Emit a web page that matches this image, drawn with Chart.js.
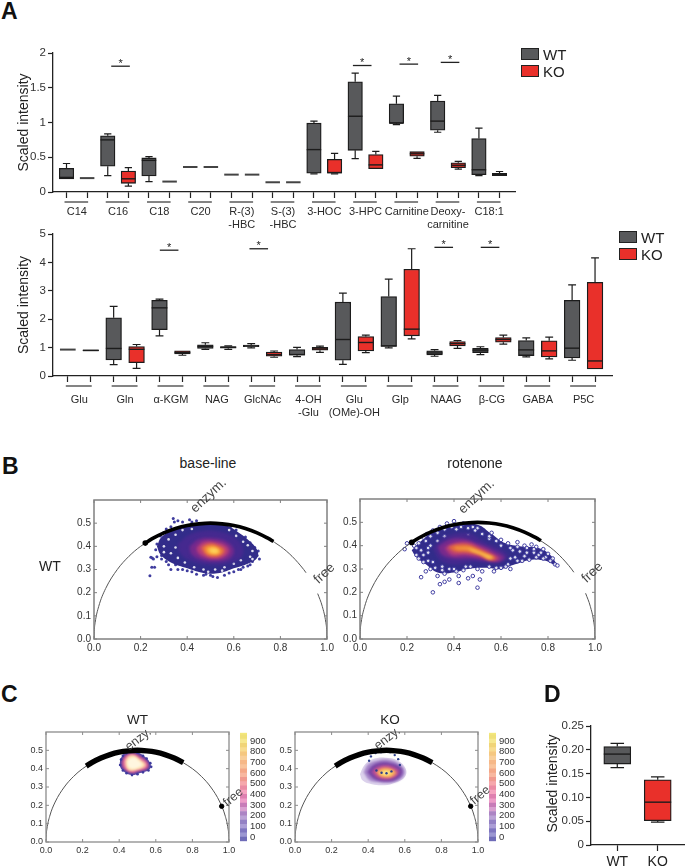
<!DOCTYPE html>
<html>
<head>
<meta charset="utf-8">
<title>Scaled intensity and phasor plots</title>
<script src="https://cdn.jsdelivr.net/npm/chart.js@4/dist/chart.umd.min.js"></script>
<style>
  html, body { margin: 0; padding: 0; background: #fff; }
  body { position: relative; width: 685px; height: 867px; overflow: hidden; font-family: "Liberation Sans", Arial, sans-serif; }
  canvas { position: absolute; }
  .txt { position: absolute; white-space: nowrap; color: #222; transform: translate(-50%, -50%); z-index: 5; }
  .swatch { position: absolute; border: 1.5px solid #222; box-sizing: border-box; z-index: 5; }
</style>
</head>
<body>
<script>
// ---------------- //
// Panel A, top     //
// ---------------- //
// every box row is [low whisker, q1, median, q3, high whisker]
const a1Labels = [['C14'], ['C16'], ['C18'], ['C20'], ['R-(3)', '-HBC'], ['S-(3)', '-HBC'], ['3-HOC'], ['3-HPC'], ['Carnitine'], ['Deoxy-', 'carnitine'], ['C18:1']];
const a1Wt = [
    [0.19, 0.19, 0.21, 0.34, 0.41],
    [0.235, 0.37, 0.75, 0.81, 0.835],
    [0.15, 0.23, 0.455, 0.49, 0.51],
    [0.36, 0.36, 0.36, 0.36, 0.36],
    [0.25, 0.25, 0.25, 0.25, 0.25],
    [0.14, 0.14, 0.14, 0.14, 0.14],
    [0.26, 0.27, 0.61, 0.99, 1.02],
    [0.48, 0.60, 1.09, 1.585, 1.71],
    [0.97, 0.99, 0.99, 1.27, 1.38],
    [0.86, 0.89, 1.02, 1.31, 1.39],
    [0.235, 0.25, 0.32, 0.77, 0.92]
];
const a1Ko = [
    [0.20, 0.20, 0.20, 0.20, 0.20],
    [0.085, 0.125, 0.19, 0.30, 0.35],
    [0.15, 0.15, 0.15, 0.15, 0.15],
    [0.36, 0.36, 0.36, 0.36, 0.36],
    [0.25, 0.25, 0.25, 0.25, 0.25],
    [0.14, 0.14, 0.14, 0.14, 0.14],
    [0.26, 0.27, 0.28, 0.47, 0.555],
    [0.335, 0.335, 0.39, 0.54, 0.585],
    [0.485, 0.515, 0.55, 0.58, 0.58],
    [0.33, 0.35, 0.385, 0.42, 0.44],
    [0.235, 0.235, 0.25, 0.27, 0.295]
];
const a1SigX = [2.62, 14.34, 16.6, 18.6];
const a1SigY = [1.81, 1.82, 1.84, 1.865];
const a1YTicks = [0, 0.5, 1, 1.5, 2];

// ---------------- //
// Panel A, bottom  //
// ---------------- //
const a2Labels = [['Glu'], ['Gln'], ['α-KGM'], ['NAG'], ['GlcNAc'], ['4-OH', '-Glu'], ['Glu', '(OMe)-OH'], ['Glp'], ['NAAG'], ['β-CG'], ['GABA'], ['P5C']];
const a2Wt = [
    [0.93, 0.93, 0.93, 0.93, 0.93],
    [0.40, 0.57, 0.97, 2.05, 2.45],
    [1.415, 1.63, 2.40, 2.665, 2.71],
    [0.94, 0.97, 1.04, 1.10, 1.17],
    [0.99, 1.03, 1.06, 1.09, 1.14],
    [0.68, 0.73, 0.755, 0.93, 1.01],
    [0.41, 0.555, 1.285, 2.60, 2.92],
    [0.99, 1.04, 1.06, 2.795, 3.41],
    [0.695, 0.74, 0.81, 0.885, 0.93],
    [0.755, 0.825, 0.91, 0.97, 1.03],
    [0.67, 0.72, 0.92, 1.25, 1.345],
    [0.555, 0.635, 0.98, 2.665, 3.21]
];
const a2Ko = [
    [0.88, 0.88, 0.90, 0.92, 0.92],
    [0.27, 0.47, 0.94, 1.04, 1.11],
    [0.73, 0.78, 0.825, 0.885, 0.885],
    [0.94, 0.98, 1.01, 1.04, 1.06],
    [0.66, 0.695, 0.755, 0.84, 0.88],
    [0.83, 0.91, 0.955, 1.01, 1.05],
    [0.825, 0.885, 1.18, 1.39, 1.44],
    [1.31, 1.415, 1.65, 3.76, 4.48],
    [0.97, 1.06, 1.14, 1.215, 1.25],
    [1.12, 1.19, 1.285, 1.355, 1.44],
    [0.60, 0.67, 0.885, 1.24, 1.37],
    [0.25, 0.25, 0.53, 3.30, 4.16]
];
const a2SigX = [4.42, 8.33, 16.4, 18.42];
const a2SigY = [4.43, 4.48, 4.53, 4.53];
const a2YTicks = [0, 1, 2, 3, 4, 5];

// ---------------- //
// Panel D          //
// ---------------- //
const dWt = [[0.1625, 0.170, 0.191, 0.207, 0.2136]];
const dKo = [[0.048, 0.051, 0.09, 0.137, 0.143]];
const dYTicks = [0, 0.05, 0.10, 0.15, 0.20, 0.25];

// ---------------- //
// Phasor plots     //
// ---------------- //
const arcFullX = [0, 0.001, 0.005, 0.02, 0.05, 0.1, 0.15, 0.2, 0.3, 0.4, 0.5, 0.6, 0.7, 0.8, 0.85, 0.9, 0.95, 0.98, 0.995, 0.999, 1];
const arcFullY = [0, 0.032, 0.071, 0.14, 0.218, 0.3, 0.357, 0.4, 0.458, 0.49, 0.5, 0.49, 0.458, 0.4, 0.357, 0.3, 0.218, 0.14, 0.071, 0.032, 0];
const arcGapX = [0, 0.001, 0.005, 0.02, 0.05, 0.1, 0.15, 0.2, 0.3, 0.4, 0.5, 0.6, 0.7, 0.8, 0.85, 0.9, 0.91, 0.93, 0.96, 0.98, 0.995, 0.999, 1];
const arcGapY = [0, 0.032, 0.071, 0.14, 0.218, 0.3, 0.357, 0.4, 0.458, 0.49, 0.5, 0.49, 0.458, 0.4, 0.357, 0.3, 0.286, null, 0.196, 0.14, 0.071, 0.032, 0];
const enzymBX = [0.22, 0.25, 0.3, 0.35, 0.4, 0.45, 0.5, 0.55, 0.6, 0.65, 0.7, 0.75, 0.77];
const enzymBY = [0.414, 0.433, 0.458, 0.477, 0.49, 0.497, 0.5, 0.497, 0.49, 0.477, 0.458, 0.433, 0.421];
const enzymCX = [0.22, 0.25, 0.3, 0.35, 0.4, 0.45, 0.5, 0.55, 0.6, 0.65, 0.7, 0.75];
const enzymCY = [0.414, 0.433, 0.458, 0.477, 0.49, 0.497, 0.5, 0.497, 0.49, 0.477, 0.458, 0.433];
const phasorXTicks = [0, 0.2, 0.4, 0.6, 0.8, 1];
const phasorYTicks = [0, 0.1, 0.2, 0.3, 0.4, 0.5];

const baseColours = ['#322c8a', '#45298f', '#76298c', '#b83d78', '#e9713f', '#f9a93a', '#fdd25a'];
const baseLevels = [
    [[.27,.40],[.29,.44],[.34,.47],[.40,.49],[.50,.50],[.57,.49],[.62,.46],[.66,.43],[.70,.385],[.70,.35],[.66,.325],[.60,.305],[.54,.285],[.47,.285],[.40,.305],[.33,.33],[.285,.365]],
    [[.36,.41],[.40,.445],[.46,.465],[.53,.465],[.60,.44],[.64,.395],[.63,.35],[.57,.325],[.49,.32],[.41,.34],[.37,.37]],
    [[.41,.40],[.45,.43],[.51,.435],[.57,.42],[.60,.385],[.585,.35],[.53,.335],[.47,.34],[.42,.365]],
    [[.44,.395],[.47,.42],[.52,.42],[.565,.405],[.58,.38],[.56,.355],[.52,.345],[.47,.355],[.445,.375]],
    [[.46,.395],[.49,.41],[.53,.405],[.56,.385],[.55,.365],[.52,.355],[.48,.365]],
    [[.48,.395],[.51,.40],[.54,.385],[.54,.37],[.51,.365],[.485,.375]],
    [[.495,.39],[.52,.392],[.535,.38],[.525,.37],[.50,.375]]
];
const baseSpeckles = [[.34,.52],[.345,.505],[.36,.51],[.38,.505],[.41,.515],[.42,.505],[.44,.51],[.33,.485],[.31,.475],[.30,.46],[.285,.445],[.27,.41],[.265,.385],[.25,.35],[.255,.345],[.27,.355],[.29,.36],[.26,.31],[.244,.353],[.248,.31],[.24,.273],[.33,.30],[.38,.30],[.42,.29],[.44,.28],[.47,.275],[.50,.275],[.53,.265],[.51,.27],[.56,.275],[.58,.285],[.60,.29],[.62,.30],[.64,.31],[.66,.315],[.70,.36],[.71,.345],[.68,.335],[.705,.38],[.69,.395],[.67,.415],[.65,.44],[.61,.47],[.585,.48],[.35,.32],[.31,.335],[.29,.345],[.32,.32],[.36,.30],[.40,.295],[.48,.28],[.67,.32],[.63,.30]];
const baseHoles = [[.30,.40],[.32,.43],[.35,.45],[.38,.47],[.33,.37],[.36,.35],[.39,.33],[.43,.31],[.47,.30],[.52,.30],[.56,.31],[.60,.325],[.63,.34],[.67,.355],[.68,.38],[.66,.405],[.64,.42],[.61,.445],[.58,.47],[.30,.375],[.35,.395],[.42,.475],[.68,.345],[.49,.29],[.55,.295]];

const rotColours = ['#322c8a', '#45298f', '#7a2a8c', '#b83d78', '#e3693f', '#f3973a', '#fdc94e'];
const rotLevels = [
    [[.22,.38],[.26,.42],[.32,.465],[.40,.49],[.50,.49],[.56,.45],[.62,.41],[.70,.395],[.76,.39],[.81,.36],[.835,.315],[.79,.335],[.73,.34],[.66,.32],[.60,.30],[.54,.305],[.46,.30],[.40,.285],[.33,.285],[.28,.32],[.24,.35]],
    [[.31,.39],[.35,.43],[.40,.45],[.47,.45],[.53,.415],[.60,.385],[.63,.355],[.61,.335],[.56,.325],[.48,.33],[.40,.32],[.34,.34]],
    [[.33,.395],[.38,.425],[.44,.43],[.50,.41],[.56,.385],[.615,.35],[.59,.33],[.54,.335],[.47,.345],[.40,.345],[.35,.36]],
    [[.36,.39],[.40,.41],[.46,.415],[.51,.395],[.56,.37],[.595,.345],[.565,.335],[.51,.35],[.45,.36],[.39,.36]],
    [[.375,.395],[.41,.405],[.46,.405],[.51,.385],[.55,.365],[.58,.345],[.55,.34],[.51,.36],[.46,.37],[.40,.375]],
    [[.40,.395],[.43,.395],[.46,.395],[.50,.38],[.54,.36],[.57,.345],[.545,.345],[.51,.365],[.46,.38],[.41,.385]],
    [[.46,.39],[.49,.38],[.53,.365],[.565,.35],[.55,.345],[.52,.36],[.48,.375]]
];
const rotSpeckles = [[.2,.41],[.19,.385],[.23,.40],[.27,.435],[.285,.45],[.31,.465],[.34,.48],[.37,.495],[.40,.505],[.44,.495],[.48,.48],[.50,.475],[.56,.455],[.60,.425],[.63,.41],[.67,.415],[.70,.40],[.73,.405],[.75,.395],[.78,.385],[.80,.365],[.82,.345],[.83,.32],[.84,.315],[.76,.36],[.71,.37],[.68,.375],[.66,.35],[.72,.34],[.69,.335],[.63,.32],[.64,.30],[.60,.305],[.57,.29],[.52,.29],[.46,.26],[.51,.255],[.48,.27],[.42,.27],[.38,.255],[.36,.245],[.34,.235],[.42,.24],[.50,.22],[.31,.2],[.26,.265],[.33,.27],[.36,.28],[.30,.30],[.27,.33],[.25,.345],[.24,.36],[.26,.38],[.29,.37],[.31,.33],[.28,.29],[.33,.42],[.30,.40],[.36,.44],[.41,.47],[.46,.445],[.35,.31],[.40,.30],[.45,.31],[.55,.43],[.74,.37],[.79,.35],[.65,.38],[.24,.39],[.25,.41],[.28,.42],[.30,.44],[.33,.455],[.36,.47],[.39,.48],[.43,.48],[.46,.475],[.49,.465],[.52,.45],[.55,.44],[.58,.42],[.60,.40],[.64,.39],[.67,.395],[.71,.39],[.74,.385],[.77,.37],[.81,.335],[.78,.345],[.75,.35],[.70,.355],[.67,.335],[.64,.345],[.62,.31],[.58,.305],[.55,.31],[.50,.30],[.47,.31],[.44,.295],[.41,.29],[.38,.30],[.35,.295],[.32,.305],[.29,.335],[.27,.36],[.29,.39]];

const wtColours = ['#4b44a6', '#b8488f', '#ef8fa0', '#fde3b0', '#fff6e0'];
const wtLevels = [
    [[.405,.45],[.43,.485],[.47,.495],[.52,.48],[.57,.43],[.565,.395],[.51,.375],[.47,.365],[.43,.38],[.405,.41]],
    [[.415,.45],[.44,.478],[.475,.485],[.515,.47],[.56,.43],[.555,.40],[.505,.385],[.47,.375],[.435,.39],[.415,.415]],
    [[.425,.445],[.445,.47],[.475,.478],[.51,.46],[.55,.43],[.545,.405],[.50,.39],[.47,.383],[.44,.395],[.425,.42]],
    [[.435,.44],[.45,.465],[.48,.47],[.51,.45],[.54,.425],[.535,.41],[.495,.395],[.47,.39],[.445,.40]],
    [[.445,.44],[.46,.455],[.485,.46],[.51,.44],[.525,.42],[.50,.405],[.47,.40],[.45,.41]]
];
const wtSpeckles = [[.41,.45],[.42,.47],[.44,.485],[.47,.495],[.50,.487],[.53,.47],[.55,.455],[.57,.43],[.575,.41],[.56,.39],[.53,.38],[.50,.37],[.47,.365],[.44,.375],[.42,.39],[.405,.42]];

const koColours = ['#dcd2ec', '#a585c8', '#7a45a5', '#b64d96', '#ee8d6a', '#fac45e', '#fde58a'];
const koLevels = [
    [[.355,.37],[.38,.42],[.42,.45],[.49,.46],[.56,.445],[.605,.40],[.60,.355],[.55,.325],[.49,.31],[.42,.315],[.37,.335]],
    [[.375,.38],[.40,.425],[.45,.445],[.51,.45],[.57,.425],[.60,.385],[.58,.345],[.53,.325],[.47,.325],[.41,.335]],
    [[.395,.38],[.42,.415],[.47,.435],[.53,.43],[.58,.405],[.585,.37],[.55,.34],[.49,.33],[.43,.345]],
    [[.42,.38],[.44,.405],[.49,.42],[.54,.41],[.57,.385],[.55,.355],[.50,.34],[.45,.35]],
    [[.44,.38],[.46,.40],[.50,.408],[.54,.395],[.555,.375],[.53,.355],[.49,.35],[.46,.36]],
    [[.455,.38],[.48,.395],[.515,.395],[.54,.38],[.525,.36],[.49,.358],[.465,.365]],
    [[.475,.38],[.495,.388],[.52,.38],[.51,.367],[.485,.367]]
];
const koSpeckles = [[.415,.467],[.44,.485],[.47,.49],[.496,.495],[.52,.49],[.545,.474],[.564,.452],[.405,.443],[.573,.42],[.445,.39],[.473,.378],[.50,.375],[.527,.385]];

const freeDotX = [0.96];
const freeDotY = [0.195];

// colour bar of panel C
const cbarEdges = [-40, 0, 40, 80, 120, 160, 200, 240, 280, 320, 360, 400, 440, 480, 520, 560, 600, 640, 680, 720, 760, 800, 840, 880, 920, 960, 980];
const cbarColours = ['#6f6cb8', '#9b97d2', '#7f76c0', '#ab9ed6', '#9381c4', '#bba3d6', '#ac84c4', '#d9a0d0', '#c77cb8', '#ee9cc8', '#de80b0', '#f5a4c0', '#ea8ca4', '#f6a8ac', '#f09a90', '#f8b8a0', '#f4a888', '#f9c49c', '#f6b888', '#f9d09a', '#f5c880', '#f8dc90', '#f0d478', '#f6e890', '#efe078', '#f3e87c'];
const cbarTicks = [0, 100, 200, 300, 400, 500, 600, 700, 800, 900];

// ------- //
// Helpers //
// ------- //
const FONT = '"Liberation Sans", Arial, sans-serif';
const WT_FILL = '#58595b';
const KO_FILL = '#e9302a';
const AXIS_COLOUR = '#222';

function addText(text, x, y, size, extra) {
    const el = document.createElement('div');
    el.className = 'txt';
    el.textContent = text;
    el.style.left = x + 'px';
    el.style.top = y + 'px';
    el.style.fontSize = size + 'px';
    if (extra) Object.assign(el.style, extra);
    document.body.appendChild(el);
}

function addLegendRow(x, y, fill, label) {
    const el = document.createElement('div');
    el.className = 'swatch';
    el.style.cssText = `left:${x}px;top:${y}px;width:18px;height:12px;background:${fill}`;
    document.body.appendChild(el);
    addText(label, x + 22, y + 6, 15, { transform: 'translate(0,-50%)' });
}

// canvas covering the frame plus its margins
function makeCanvas(frame, m) {
    const c = document.createElement('canvas');
    c.width = frame.r - frame.l + m.l + m.r;
    c.height = frame.b - frame.t + m.t + m.b;
    c.style.left = (frame.l - m.l) + 'px';
    c.style.top = (frame.t - m.t) + 'px';
    document.body.appendChild(c);
    return c;
}

function setTicks(list) {
    return (scale) => { scale.ticks = list.map(v => ({ value: v })); };
}

// whiskers, medians, significance bars, group labels and the axis title
const boxExtras = {
    id: 'boxExtras',
    afterDatasetsDraw(chart) {
        const ctx = chart.ctx;
        const xs = chart.scales.x;
        const ys = chart.scales.y;
        const opt = chart.config.options.boxOpt;
        ctx.save();
        chart.data.datasets.forEach((ds) => {
            ds.rows.forEach((row, i) => {
                const cx = xs.getPixelForValue(ds.data[i].x);
                const hw = opt.boxW / 2;
                const flat = row[1] === row[3];
                ctx.strokeStyle = '#1c1c1c';
                ctx.lineWidth = 1.2;
                ctx.beginPath();
                [[row[3], row[4]], [row[1], row[0]]].forEach((pair) => {
                    if (pair[0] === pair[1]) return;
                    const a = ys.getPixelForValue(pair[0]);
                    const b = ys.getPixelForValue(pair[1]);
                    ctx.moveTo(cx, a);
                    ctx.lineTo(cx, b);
                    ctx.moveTo(cx - hw / 2, b);
                    ctx.lineTo(cx + hw / 2, b);
                });
                ctx.stroke();
                // median
                ctx.beginPath();
                ctx.lineWidth = flat ? 2 : 1.4;
                ctx.strokeStyle = flat ? '#444' : '#1c1c1c';
                const my = ys.getPixelForValue(row[2]);
                ctx.moveTo(cx - hw, my);
                ctx.lineTo(cx + hw, my);
                ctx.stroke();
            });
        });

        // significance bars
        ctx.textAlign = 'center';
        ctx.fillStyle = '#222';
        (opt.sigX || []).forEach((v, i) => {
            const cx = xs.getPixelForValue(v);
            const y = ys.getPixelForValue(opt.sigY[i]);
            ctx.strokeStyle = '#222';
            ctx.lineWidth = 1.3;
            ctx.beginPath();
            ctx.moveTo(cx - 9.3, y);
            ctx.lineTo(cx + 9.3, y);
            ctx.stroke();
            ctx.font = '11px ' + FONT;
            ctx.textBaseline = 'middle';
            ctx.fillText('*', cx, y - 2.5);
        });

        // group rule and group label under the axis
        (opt.groups || []).forEach((lines, i) => {
            const a = xs.getPixelForValue(i * 2);
            const b = xs.getPixelForValue(i * 2 + 1);
            ctx.strokeStyle = '#333';
            ctx.lineWidth = 1.2;
            ctx.beginPath();
            ctx.moveTo(a - 2, chart.chartArea.bottom + 10);
            ctx.lineTo(b + 1, chart.chartArea.bottom + 10);
            ctx.stroke();
            ctx.fillStyle = '#2a2a2a';
            ctx.font = '11px ' + FONT;
            ctx.textBaseline = 'middle';
            lines.forEach((t, k) => {
                ctx.fillText(t, (a + b) / 2, chart.chartArea.bottom + opt.labelY + k * 13);
            });
        });

        // y axis title
        ctx.save();
        ctx.translate(chart.chartArea.left - opt.titleOff, (chart.chartArea.top + chart.chartArea.bottom) / 2 + (opt.titleShift || 0));
        ctx.rotate(-Math.PI / 2);
        ctx.fillStyle = '#222';
        ctx.font = '14px ' + FONT;
        ctx.textBaseline = 'middle';
        ctx.fillText('Scaled intensity', 0, 0);
        ctx.restore();
        ctx.restore();
    }
};

function boxChart(frame, m, cfg) {
    const canvas = makeCanvas(frame, m);
    const toBars = (rows, offset) => rows.map((r, i) => ({ x: i * cfg.step + offset, y: [r[1], r[3]] }));
    const barOpts = { barThickness: cfg.boxW, borderWidth: 1.3, borderColor: '#1c1c1c', borderSkipped: false, grouped: false };
    const xTicks = [];
    for (let i = 0; i < cfg.wt.length; i++) { xTicks.push(i * cfg.step, i * cfg.step + 1); }
    return new Chart(canvas, {
        type: 'bar',
        data: {
            datasets: [
                Object.assign({ label: 'WT', data: toBars(cfg.wt, 0), rows: cfg.wt, backgroundColor: WT_FILL }, barOpts),
                Object.assign({ label: 'KO', data: toBars(cfg.ko, 1), rows: cfg.ko, backgroundColor: KO_FILL }, barOpts)
            ]
        },
        options: {
            responsive: false,
            animation: false,
            boxOpt: cfg,
            layout: { padding: { top: m.t, right: m.r, left: 0, bottom: 0 } },
            plugins: { legend: { display: false }, tooltip: { enabled: false } },
            scales: {
                x: {
                    type: 'linear',
                    offset: false,
                    min: cfg.xMin,
                    max: cfg.xMax,
                    afterBuildTicks: setTicks(xTicks),
                    afterFit: (s) => { s.height = m.b; },
                    border: { color: AXIS_COLOUR, width: 1.3 },
                    grid: { drawOnChartArea: false, offset: false, color: AXIS_COLOUR, tickLength: 6, tickWidth: 1.2 },
                    ticks: { display: cfg.xNames ? true : false, autoSkip: false, maxRotation: 0, padding: 3, color: '#222', font: { family: FONT, size: 14 },
                        callback: (v) => cfg.xNames ? cfg.xNames[v] : '' }
                },
                y: {
                    min: 0,
                    max: cfg.yMax,
                    afterBuildTicks: setTicks(cfg.yTicks),
                    afterFit: (s) => { s.width = m.l; },
                    border: { color: AXIS_COLOUR, width: 1.3 },
                    grid: { drawOnChartArea: false, color: AXIS_COLOUR, tickLength: 5, tickWidth: 1.2 },
                    ticks: { autoSkip: false, padding: 2, color: '#333', font: { family: FONT, size: 11.5 }, callback: cfg.yFormat }
                }
            }
        },
        plugins: [boxExtras]
    });
}

// frame with inward ticks plus filled density levels
const phasorExtras = {
    id: 'phasorExtras',
    beforeDatasetDraw(chart, args) {
        const ds = chart.data.datasets[args.index];
        if (!ds.cloudFill) return;
        const ctx = chart.ctx;
        const line = args.meta.dataset;
        line.updateControlPoints(chart.chartArea, 'x');
        ctx.save();
        ctx.filter = 'blur(' + ds.cloudBlur + 'px)';
        ctx.fillStyle = ds.cloudFill;
        ctx.beginPath();
        line.path(ctx);
        ctx.closePath();
        ctx.fill();
        ctx.restore();
        return false;
    },
    afterDraw(chart) {
        const ctx = chart.ctx;
        const a = chart.chartArea;
        const o = chart.config.options.phasorOpt;
        ctx.save();
        ctx.strokeStyle = o.frameColour;
        ctx.lineWidth = o.frameWidth;
        ctx.strokeRect(a.left, a.top, a.right - a.left, a.bottom - a.top);
        ctx.lineWidth = 1;
        ctx.beginPath();
        chart.scales.x.ticks.forEach((t) => {
            const x = chart.scales.x.getPixelForValue(t.value);
            ctx.moveTo(x, a.bottom); ctx.lineTo(x, a.bottom - 3);
            ctx.moveTo(x, a.top); ctx.lineTo(x, a.top + 3);
        });
        chart.scales.y.ticks.forEach((t) => {
            const y = chart.scales.y.getPixelForValue(t.value);
            ctx.moveTo(a.left, y); ctx.lineTo(a.left + 3, y);
            ctx.moveTo(a.right, y); ctx.lineTo(a.right - 3, y);
        });
        ctx.stroke();
        ctx.restore();
    }
};

function pairs(xs, ys) {
    return xs.map((x, i) => ({ x: x, y: ys[i] }));
}

function phasorChart(frame, cfg) {
    const m = { l: 34, t: 10, r: 14, b: 22 };
    const canvas = makeCanvas(frame, m);
    const datasets = [];
    cfg.levels.forEach((poly, i) => {
        datasets.push({
            data: poly.concat([poly[0]]).map(p => ({ x: p[0], y: p[1] })),
            showLine: true, tension: 0.4, pointRadius: 0, borderWidth: 0,
            cloudFill: cfg.colours[i], cloudBlur: i === 0 ? cfg.blur / 2 : cfg.blur, order: 100 - i
        });
    });
    datasets.push({
        data: cfg.speckles.map(p => ({ x: p[0], y: p[1] })),
        showLine: false, pointRadius: cfg.speckR, pointBorderWidth: cfg.speckBorder,
        pointBackgroundColor: cfg.speckFill, pointBorderColor: cfg.speckEdge, order: cfg.speckOrder
    });
    if (cfg.holes) {
        // pale gaps that break up the edge of the outer level
        datasets.push({
            data: cfg.holes.map(p => ({ x: p[0], y: p[1] })),
            showLine: false, pointRadius: 1.3, pointBorderWidth: 0,
            pointBackgroundColor: 'rgba(255,255,255,0.85)', order: 99.5
        });
    }
    datasets.push({
        data: pairs(cfg.arcX, cfg.arcY),
        showLine: true, pointRadius: 0, borderColor: '#555', borderWidth: 1,
        cubicInterpolationMode: 'monotone', spanGaps: false, order: 3
    });
    datasets.push({
        data: pairs(cfg.enzX, cfg.enzY),
        showLine: true, borderColor: '#000', borderWidth: cfg.enzWidth, tension: 0.4, order: 2,
        pointRadius: (c) => (cfg.enzDot && c.dataIndex === 0) ? 2.8 : 0,
        pointBackgroundColor: '#000', pointBorderWidth: 0
    });
    if (cfg.dot) {
        datasets.push({
            data: pairs(freeDotX, freeDotY),
            showLine: false, pointRadius: 2.2, pointBackgroundColor: '#000', pointBorderColor: '#000', order: 1
        });
    }
    return new Chart(canvas, {
        type: 'scatter',
        data: { datasets: datasets },
        options: {
            responsive: false,
            animation: false,
            phasorOpt: cfg,
            layout: { padding: { top: m.t, right: m.r, left: 0, bottom: 0 } },
            plugins: { legend: { display: false }, tooltip: { enabled: false } },
            scales: {
                x: {
                    min: 0, max: 1,
                    afterBuildTicks: setTicks(phasorXTicks),
                    afterFit: (s) => { s.height = m.b; },
                    border: { display: false },
                    grid: { display: false, drawTicks: false },
                    ticks: { autoSkip: false, maxRotation: 0, padding: cfg.pad, color: '#333', font: { family: FONT, size: cfg.font }, callback: (v) => v.toFixed(1) }
                },
                y: {
                    min: 0, max: 0.6,
                    afterBuildTicks: setTicks(phasorYTicks),
                    afterFit: (s) => { s.width = m.l; },
                    border: { display: false },
                    grid: { display: false, drawTicks: false },
                    ticks: { autoSkip: false, padding: 3, color: '#333', font: { family: FONT, size: cfg.font }, callback: (v) => v.toFixed(1) }
                }
            }
        },
        plugins: [phasorExtras]
    });
}

function colourBar(frame) {
    const m = { l: 0, t: 8, r: 30, b: 8 };
    const canvas = makeCanvas(frame, m);
    return new Chart(canvas, {
        type: 'bar',
        data: {
            labels: [''],
            datasets: cbarColours.map((c, i) => ({
                data: [[cbarEdges[i], cbarEdges[i + 1]]],
                backgroundColor: c, grouped: false, barPercentage: 1, categoryPercentage: 1, borderWidth: 0
            }))
        },
        options: {
            responsive: false,
            animation: false,
            layout: { padding: { top: m.t, bottom: m.b, left: 0, right: 0 } },
            plugins: { legend: { display: false }, tooltip: { enabled: false } },
            scales: {
                x: { display: false },
                y: {
                    position: 'right',
                    min: -40, max: 980,
                    afterBuildTicks: setTicks(cbarTicks),
                    afterFit: (s) => { s.width = m.r; },
                    border: { display: false },
                    grid: { display: false, drawTicks: false },
                    ticks: { autoSkip: false, padding: 3, color: '#333', font: { family: FONT, size: 9.5 } }
                }
            }
        }
    });
}

// ------------- //
// Create charts //
// ------------- //
const plainNumber = (v) => String(v);

boxChart({ l: 53, r: 515, t: 53, b: 192 }, { l: 53, t: 10, r: 10, b: 42 }, {
    wt: a1Wt, ko: a1Ko, step: 2, boxW: 14.5, xMin: -0.655, xMax: 21.75, yMax: 2, yTicks: a1YTicks,
    yFormat: plainNumber, sigX: a1SigX, sigY: a1SigY, groups: a1Labels, labelY: 20, titleOff: 29, titleShift: 0
});

boxChart({ l: 53, r: 612, t: 234, b: 376 }, { l: 53, t: 10, r: 10, b: 44 }, {
    wt: a2Wt, ko: a2Ko, step: 2, boxW: 15.7, xMin: -0.646, xMax: 23.74, yMax: 5, yTicks: a2YTicks,
    yFormat: plainNumber, sigX: a2SigX, sigY: a2SigY, groups: a2Labels, labelY: 23.5, titleOff: 29, titleShift: 0
});

boxChart({ l: 591, r: 684, t: 726, b: 845 }, { l: 53, t: 10, r: 1, b: 22 }, {
    wt: dWt, ko: dKo, step: 1, boxW: 27, xMin: -0.65, xMax: 1.65, yMax: 0.25, yTicks: dYTicks,
    yFormat: (v) => v === 0 ? '0' : v.toFixed(2), xNames: { 0: 'WT', 1: 'KO' }, titleOff: 38, titleShift: -2
});

phasorChart({ l: 94, r: 327, t: 500, b: 639 }, {
    levels: baseLevels, colours: baseColours, speckles: baseSpeckles, holes: baseHoles, speckR: 1.5, speckBorder: 0, speckFill: '#3f3c9e', speckEdge: '#3f3c9e', speckOrder: 200,
    arcX: arcGapX, arcY: arcGapY, enzX: enzymBX, enzY: enzymBY, enzWidth: 3.6, enzDot: true, blur: 1.4, font: 10, pad: 3, frameColour: '#808080', frameWidth: 1.5
});
phasorChart({ l: 360, r: 595, t: 499, b: 639 }, {
    levels: rotLevels, colours: rotColours, speckles: rotSpeckles, speckR: 1.8, speckBorder: 1, speckFill: 'rgba(255,255,255,0.85)', speckEdge: '#3f3ca0', speckOrder: 99.5,
    arcX: arcGapX, arcY: arcGapY, enzX: enzymBX, enzY: enzymBY, enzWidth: 3.6, enzDot: true, blur: 1.4, font: 10, pad: 3, frameColour: '#808080', frameWidth: 1.5
});
phasorChart({ l: 46, r: 229, t: 732, b: 842 }, {
    levels: wtLevels, colours: wtColours, speckles: wtSpeckles, speckR: 1.3, speckBorder: 0, speckFill: '#3e3a9c', speckEdge: '#3e3a9c', speckOrder: 90,
    arcX: arcFullX, arcY: arcFullY, enzX: enzymCX, enzY: enzymCY, enzWidth: 5.5, blur: 1, font: 9, pad: 3, frameColour: '#8c8c8c', frameWidth: 1.3, dot: true
});
phasorChart({ l: 295, r: 478, t: 732, b: 842 }, {
    levels: koLevels, colours: koColours, speckles: koSpeckles, speckR: 1.2, speckBorder: 0, speckFill: '#2c3e8c', speckEdge: '#2c3e8c', speckOrder: 90,
    arcX: arcFullX, arcY: arcFullY, enzX: enzymCX, enzY: enzymCY, enzWidth: 5.5, blur: 1, font: 9, pad: 3, frameColour: '#8c8c8c', frameWidth: 1.3, dot: true
});
colourBar({ l: 240, r: 247, t: 732, b: 842 });
colourBar({ l: 489, r: 496, t: 732, b: 842 });

// ------------- //
// Text, legends //
// ------------- //
const bold = { fontWeight: 'bold', color: '#111', transform: 'translate(0,-50%)' };
addText('A', 1, 11, 23, bold);
addText('B', 2, 466, 23, bold);
addText('C', 1, 694, 23, bold);
addText('D', 544, 694, 23, bold);

addLegendRow(521, 48, WT_FILL, 'WT');
addLegendRow(521, 65, KO_FILL, 'KO');
addLegendRow(619, 231, WT_FILL, 'WT');
addLegendRow(619, 248, KO_FILL, 'KO');

addText('base-line', 208, 463, 14);
addText('rotenone', 475, 463, 14);
addText('WT', 50, 566, 14);
addText('WT', 137.5, 719, 13.5);
addText('KO', 390, 719, 13.5);

const tilted = { color: '#444' };
addText('enzym.', 208, 495, 13.5, Object.assign({ transform: 'translate(-50%,-50%) rotate(-43deg)' }, tilted));
addText('enzym.', 475.5, 495.5, 13.5, Object.assign({ transform: 'translate(-50%,-50%) rotate(-43deg)' }, tilted));
addText('free', 324, 572.5, 13.5, Object.assign({ transform: 'translate(-50%,-50%) rotate(-43deg)' }, tilted));
addText('free', 592, 571.5, 13.5, Object.assign({ transform: 'translate(-50%,-50%) rotate(-43deg)' }, tilted));
addText('enzy.', 138, 739, 12.5, Object.assign({ transform: 'translate(-50%,-50%) rotate(-38deg)' }, tilted));
addText('enzy.', 387, 738, 12.5, Object.assign({ transform: 'translate(-50%,-50%) rotate(-38deg)' }, tilted));
addText('free', 233, 797, 12.5, Object.assign({ transform: 'translate(-50%,-50%) rotate(-40deg)' }, tilted));
addText('free', 480, 795, 12.5, Object.assign({ transform: 'translate(-50%,-50%) rotate(-40deg)' }, tilted));
</script>
</body>
</html>
